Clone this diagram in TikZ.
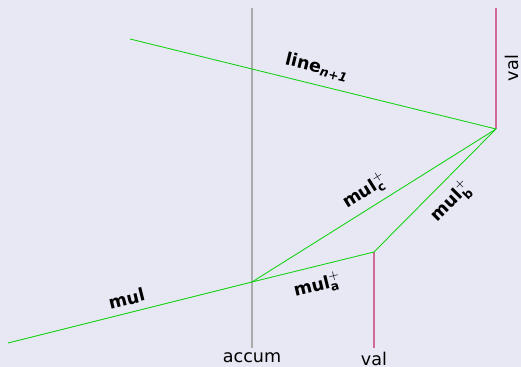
\documentclass[tikz,border=0pt]{standalone}
\usepackage{amsmath}
\usepackage{fontspec}
\setmainfont{DejaVu Sans}
\usetikzlibrary{positioning}
\definecolor{bgpane}{RGB}{232,232,244}
\definecolor{wire}{RGB}{20,210,20}
\definecolor{valpink}{RGB}{208,105,150}
\definecolor{accgrey}{RGB}{170,170,170}

\begin{document}
\begin{tikzpicture}[x=0.02cm,y=0.02cm,
  seg/.style={draw=wire,line width=0.5pt},
  tag/.style={font=\bfseries,inner sep=1pt},
  axis/.style={font=\normalsize,inner sep=0pt}
]
\fill[bgpane] (0,0) rectangle (521,367);

% vertical guides
\coordinate (acctop) at (252,359);
\coordinate (accbot) at (252,19);
\coordinate (vallow) at (374,19);
\coordinate (valtop) at (496,359);
\draw[accgrey,line width=0.7pt] (acctop) -- (accbot);
\node[axis] (acc) at (252,9) {accum};
\node[axis] (vb) at (374,8) {val};
\node[axis,rotate=90] (vr) at (512,299) {val};

% joints
\coordinate (start) at (8,24);
\coordinate (A) at (252,85);
\coordinate (V) at (374,115);
\coordinate (T) at (496,238);
\coordinate (L) at (130,328);

\draw[valpink,line width=0.7pt] (V) -- (vallow);
\draw[valpink,line width=0.7pt] (T) -- (valtop);

\draw[seg] (start) -- node[tag,sloped,above=3pt] {mul} (A);
\draw[seg] (A) -- node[tag,sloped,below=4pt] {mul$^{+}_{\text{a}}$} (V);
\draw[seg] (A) -- node[tag,sloped,above=3pt,pos=0.5] {mul$^{+}_{\text{c}}$} (T);
\draw[seg] (V) -- node[tag,sloped,below=4pt,pos=0.52] {mul$^{+}_{\text{b}}$} (T);
\draw[seg] (L) -- node[tag,sloped,above=4pt] {line$_{\text{\itshape n+1}}$} (T);
\end{tikzpicture}
\end{document}
